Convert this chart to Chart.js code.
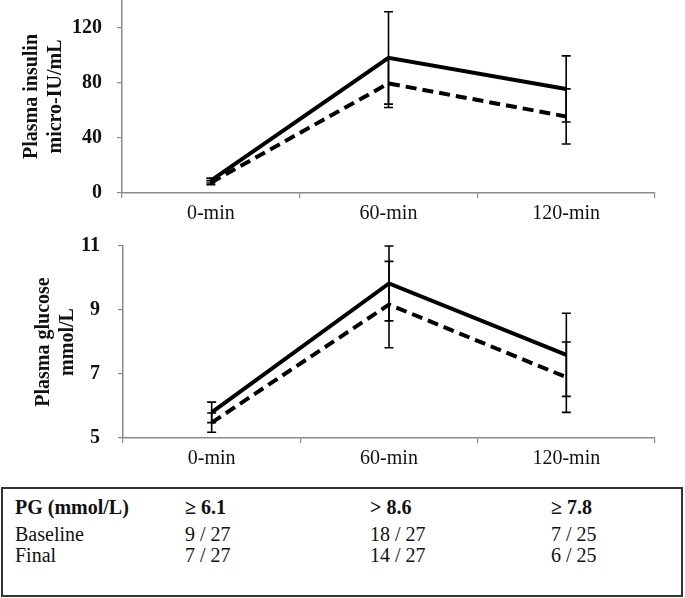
<!DOCTYPE html>
<html>
<head>
<meta charset="utf-8">
<script src="https://cdn.jsdelivr.net/npm/chart.js@4.4.1/dist/chart.umd.min.js"></script>
<style>
  html, body { margin:0; padding:0; background:#fff; }
  body { width:685px; height:598px; position:relative; overflow:hidden; font-family:"Liberation Serif","Times New Roman",serif; }
  #c1 { position:absolute; left:0; top:0; }
  #c2 { position:absolute; left:0; top:230px; }
  #tbl { position:absolute; left:1px; top:487px; width:682px; height:110px; box-sizing:border-box; border:2px solid #333; }
  .row { position:absolute; left:0; width:100%; font-size:20px; line-height:22px; color:#111; white-space:nowrap; }
  .row span { position:absolute; top:0; }
  .b { font-weight:bold; }
</style>
</head>
<body>
<canvas id="c1" width="685" height="230"></canvas>
<canvas id="c2" width="685" height="245"></canvas>
<div id="tbl"></div>
<script>
// ---- data ----
const categories = ['0-min', '60-min', '120-min'];

const insulinSolid      = [9, 98, 75.5];
const insulinSolidErr   = [1.8, 33.5, 24];
const insulinDashed     = [7.5, 79.5, 55.5];
const insulinDashedErr  = [1.5, 17.5, 20];

const glucoseSolid      = [5.8, 9.83, 7.6];
const glucoseSolidErr   = [0.32, 1.17, 1.3];
const glucoseDashed     = [5.48, 9.17, 6.9];
const glucoseDashedErr  = [0.3, 1.35, 1.1];

const tableHeader   = ['PG (mmol/L)', '≥ 6.1', '> 8.6', '≥ 7.8'];
const tableBaseline = ['Baseline', '9 / 27', '18 / 27', '7 / 25'];
const tableFinal    = ['Final', '7 / 27', '14 / 27', '6 / 25'];

// ---- error bar plugin ----
const errorBars = {
  id: 'errorBars',
  afterDatasetsDraw(chart) {
    const ctx = chart.ctx;
    const ys = chart.scales.y;
    chart.data.datasets.forEach((ds, di) => {
      const meta = chart.getDatasetMeta(di);
      if (!ds.errors) return;
      meta.data.forEach((pt, i) => {
        const v = ds.data[i], e = ds.errors[i];
        const yTop = ys.getPixelForValue(v + e);
        const yBot = ys.getPixelForValue(v - e);
        const x = pt.x, hw = 4.5;
        ctx.save();
        ctx.strokeStyle = '#000';
        ctx.lineWidth = 1.6;
        ctx.setLineDash([]);
        ctx.beginPath();
        ctx.moveTo(x, yTop); ctx.lineTo(x, yBot);
        ctx.moveTo(x - hw, yTop); ctx.lineTo(x + hw, yTop);
        ctx.moveTo(x - hw, yBot); ctx.lineTo(x + hw, yBot);
        ctx.stroke();
        ctx.restore();
      });
    });
  }
};

const FONT = '"Liberation Serif", "Times New Roman", serif';
const AXIS = '#8a8a8a';

function makeChart(id, solid, solidErr, dashed, dashedErr, yOpts, titleLines, titlePad, yWidth, tickPad, topPad) {
  return new Chart(document.getElementById(id), {
    type: 'line',
    data: {
      labels: categories,
      datasets: [
        { data: solid, errors: solidErr, borderColor: '#000', borderWidth: 4, pointRadius: 0, tension: 0, fill: false },
        { data: dashed, errors: dashedErr, borderColor: '#000', borderWidth: 4, borderDash: [11, 6], pointRadius: 0, tension: 0, fill: false }
      ]
    },
    options: {
      responsive: false,
      animation: false,
      layout: { padding: { left: 0, right: 30, top: topPad, bottom: 0 } },
      plugins: { legend: { display: false }, tooltip: { enabled: false } },
      scales: {
        x: {
          type: 'category',
          offset: true,
          grid: { offset: true, drawOnChartArea: false, drawTicks: true, tickLength: 5, color: AXIS, lineWidth: 1.2 },
          border: { color: AXIS, width: 1.5 },
          ticks: { color: '#111', font: { family: FONT, size: 20 }, padding: 4, maxRotation: 0 },
          afterFit(s) { s.height = 37; s.paddingLeft = 0; s.paddingRight = 0; }
        },
        y: Object.assign({
          grid: { drawOnChartArea: false, drawTicks: true, tickLength: 5, color: AXIS, lineWidth: 1.2 },
          border: { color: AXIS, width: 1.5 },
          title: { display: true, text: titleLines, color: '#111', font: { family: FONT, size: 20, weight: 'bold', lineHeight: 1.2 }, padding: { top: titlePad, bottom: 0 } },
          afterFit(s) { s.width = yWidth; s.paddingTop = 0; s.paddingBottom = 0; }
        }, yOpts, { ticks: Object.assign({ color: '#111', font: { family: FONT, size: 20, weight: 'bold' }, padding: tickPad }, yOpts.ticks) })
      }
    },
    plugins: [errorBars]
  });
}

makeChart('c1', insulinSolid, insulinSolidErr, insulinDashed, insulinDashedErr,
  { min: 0, max: 140, ticks: { stepSize: 40, includeBounds: false } },
  ['Plasma insulin', 'micro-IU/mL'], 20, 122, 15, 0);

makeChart('c2', glucoseSolid, glucoseSolidErr, glucoseDashed, glucoseDashedErr,
  { min: 5, max: 11, ticks: { stepSize: 2 } },
  ['Plasma glucose', 'mmol/L'], 32, 123, 18, 16);

// ---- table ----
const colX = [12, 182, 367, 548];
const rowTops = [7, 34, 55];
const tbl = document.getElementById('tbl');
[[tableHeader, true], [tableBaseline, false], [tableFinal, false]].forEach(([row, bold], ri) => {
  const d = document.createElement('div');
  d.className = 'row' + (bold ? ' b' : '');
  d.style.top = rowTops[ri] + 'px';
  row.forEach((t, ci) => {
    const s = document.createElement('span');
    s.textContent = t;
    s.style.left = colX[ci] + 'px';
    d.appendChild(s);
  });
  tbl.appendChild(d);
});
</script>
</body>
</html>
